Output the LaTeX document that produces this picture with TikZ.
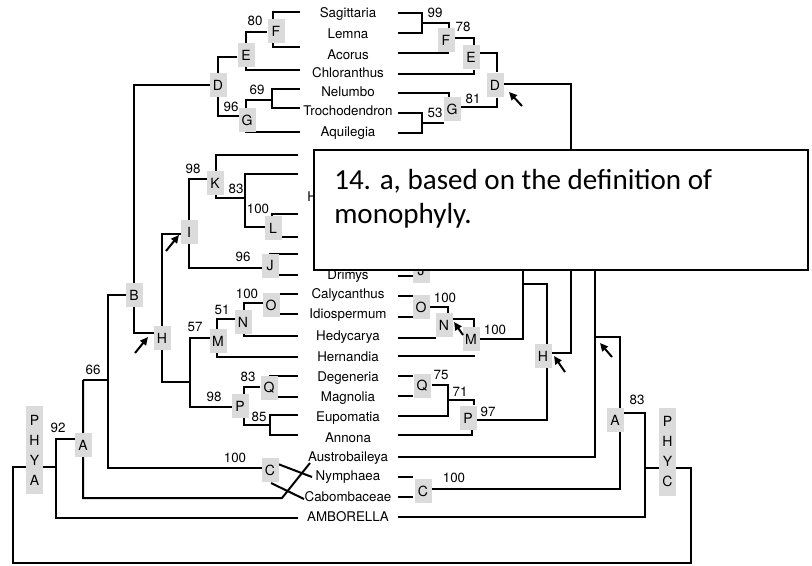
\documentclass[tikz,border=0pt]{standalone}
\usepackage{fontspec}
\setmainfont{TeX Gyre Heros}
\newfontfamily\notefont{Carlito}
\usetikzlibrary{arrows.meta}
\begin{document}
\begin{tikzpicture}[x=0.75pt,y=-0.75pt,
  br/.style={line width=1.5pt, line join=miter},
  gb/.style={fill=black!14, minimum width=12.75pt, minimum height=18.5pt, inner sep=0pt, font=\fontsize{10.5}{12}\selectfont},
  lf/.style={font=\fontsize{10}{12}\selectfont, inner sep=0pt, anchor=base},
  num/.style={font=\fontsize{10}{12}\selectfont, inner sep=0pt},
  arr/.style={line width=1.5pt, -{Triangle[length=6pt,width=5.5pt]}},
  phy/.style={fill=black!14, minimum width=12.75pt, minimum height=66pt, inner sep=0pt, font=\fontsize{10.5}{15}\selectfont, align=center}]
\useasboundingbox (0,0) rectangle (812,565);

% ---------- leaf names ----------
\foreach \n/\t/\yy in {sag/Sagittaria/13, lem/Lemna/34, aco/Acorus/55, chl/Chloranthus/73, nel/Nelumbo/92, tro/Trochodendron/111, aqu/Aquilegia/132, dri/Drimys/275, cal/Calycanthus/294, idi/Idiospermum/314, hed/Hedycarya/336, her/Hernandia/357, deg/Degeneria/377, mag/Magnolia/397, eup/Eupomatia/417, ann/Annona/438, aus/Austrobaileya/457, nym/Nymphaea/476, cab/Cabombaceae/497, amb/AMBORELLA/517}
  \node[lf] (\n) at (348,\yy+4.5) {\t};
\node[lf, anchor=base west] (hid) at (307,201.5) {H};

% ---------- left tree ----------
\draw[br] (300,12) -| (273,47) -- (300,47);
\draw[br] (267,32) -| (246,70) -- (300,70);
\draw[br] (237,57) -| (218,116) -- (240,116);
\draw[br] (272,100) -| (246,132) -- (300,132);
\draw[br] (300,89) -| (272,108) -- (300,108);
\draw[br] (210,85) -| (134,333) -- (154,333);
\draw[br] (298,155) -| (216,198) -- (245,198);
\draw[br] (298,174) -| (245,227) -- (265,227);
\draw[br] (298,214) -| (272,237) -- (298,237);
\draw[br] (207,179) -| (189,268) -- (262,268);
\draw[br] (298,254) -| (270,275) -- (298,275);
\draw[br] (181,234) -| (162,382) -- (190,382);
\draw[br] (210,338) -| (190,407) -- (232,407);
\draw[br] (235,319) -| (217,357) -- (298,357);
\draw[br] (263,303) -| (244,336) -- (298,336);
\draw[br] (298,294) -| (270,314) -- (298,314);
\draw[br] (260,387) -| (244,425) -- (270,425);
\draw[br] (298,376) -| (270,397) -- (298,397);
\draw[br] (298,415) -| (270,435) -- (298,435);
\draw[br] (126,295) -| (108,468) -- (262,468);
\draw[br] (83,380) -- (108,380);
\draw[br] (83,380) -- (83,498) -- (282,498) -- (310,463);
\draw[br] (278,464) -- (312,477);
\draw[br] (271,483) -- (304,499);
\draw[br] (75,439) -| (56,518) -- (298,518);
\draw[br] (56,467) -- (13,467) -- (13,563) -- (691,563) -- (691,468) -- (645,468);

% ---------- right tree ----------
\draw[br] (398,13) -| (422,33) -- (398,33);
\draw[br] (422,23) -| (449,28);
\draw[br] (454,38) -| (474,45);
\draw[br] (398,53) -- (449,53);
\draw[br] (398,74) -| (474,70);
\draw[br] (480,53) -| (497,72);
\draw[br] (504,84) -| (571,353) -- (551,353);
\draw[br] (398,93) -| (449,97);
\draw[br] (461,107) -| (497,98);
\draw[br] (398,113) -| (422,133) -- (398,133);
\draw[br] (422,123) -- (444,123);
\draw[br] (398,276) -- (413,276);
\draw[br] (398,296) -- (413,296);
\draw[br] (398,317) -- (413,317);
\draw[br] (430,307) -| (448,313);
\draw[br] (398,338) -- (436,338);
\draw[br] (453,319) -| (474,328);
\draw[br] (398,356) -- (475,356);
\draw[br] (398,376) -- (413,376);
\draw[br] (398,396) -- (413,396);
\draw[br] (432,385) -| (448,416) -- (398,416);
\draw[br] (448,400) -| (474,405);
\draw[br] (398,435) -| (472,430);
\draw[br] (480,339) -| (523,200);
\draw[br] (523,284) -| (547,420) -- (477,420);
\draw[br] (595,200) -- (595,457) -- (398,457);
\draw[br] (595,337) -| (620,489) -- (432,489);
\draw[br] (398,477) -- (413,477);
\draw[br] (398,497) -- (413,497);
\draw[br] (398,517) -| (645,413) -- (623,413);

% ---------- grey boxes ----------
\foreach \n/\l/\xx/\yy in {lF/F/276/31, lE/E/246/55, lD/D/218/85, lG/G/247/120, lK/K/215/183, lL/L/273/228, lI/I/189/232, lJ/J/270/266, lB/B/134/295, lH/H/162/338, lM/M/218/341, lN/N/243/322, lO/O/271/305, lQ/Q/269/388, lP/P/240/406, lC/C/270/470, lA/A/83/445,
  rF/F/446/40, rE/E/471/57, rD/D/495/85, rG/G/452/109, rJ/J/421/271, rO/O/421/307, rN/N/444/325, rM/M/471/339, rQ/Q/422/386, rP/P/468/418, rH/H/543/356, rC/C/423/491, rA/A/615/420}
  \node[gb] (\n) at (\xx,\yy) {\l};
\node[phy] (phya) at (34.5,450) {P\\H\\Y\\A};
\node[phy] (phyc) at (667.5,452) {P\\H\\Y\\C};

% ---------- support values ----------
\foreach \v/\xx/\yy in {80/255/21, 69/257/90, 96/231/107, 98/193/169, 83/236/189, 100/258/209, 96/243/257, 100/247/294, 51/222/310, 57/195/327, 83/248/377, 98/214/397, 85/259/417, 66/93/370, 92/58/428, 100/235/458,
  99/435/13, 78/463/27, 53/435/113, 81/473/99, 100/445/298, 100/495/330, 75/441/375, 71/460/392, 97/488/412, 100/454/478, 83/637/400}
  \node[num] at (\xx,\yy) {\v};

% ---------- note box ----------
\draw[line width=1.1pt, fill=white] (314,150) rectangle (808,270);
\node[anchor=base west, inner sep=0pt, font=\notefont\fontsize{21.8}{26}\selectfont] (n1) at (334,189) {14. a, based on the definition of};
\node[anchor=base west, inner sep=0pt, font=\notefont\fontsize{21.8}{26}\selectfont] (n2) at (334,223) {monophyly.};

% ---------- arrows ----------
\draw[arr] (522,106) -- (509,92);
\draw[arr] (463,335) -- (454,322);
\draw[arr] (565,372) -- (554,356);
\draw[arr] (612,357) -- (600,343);
\draw[arr] (166,251) -- (179,235);
\draw[arr] (135,353) -- (148,337);
\end{tikzpicture}
\end{document}
